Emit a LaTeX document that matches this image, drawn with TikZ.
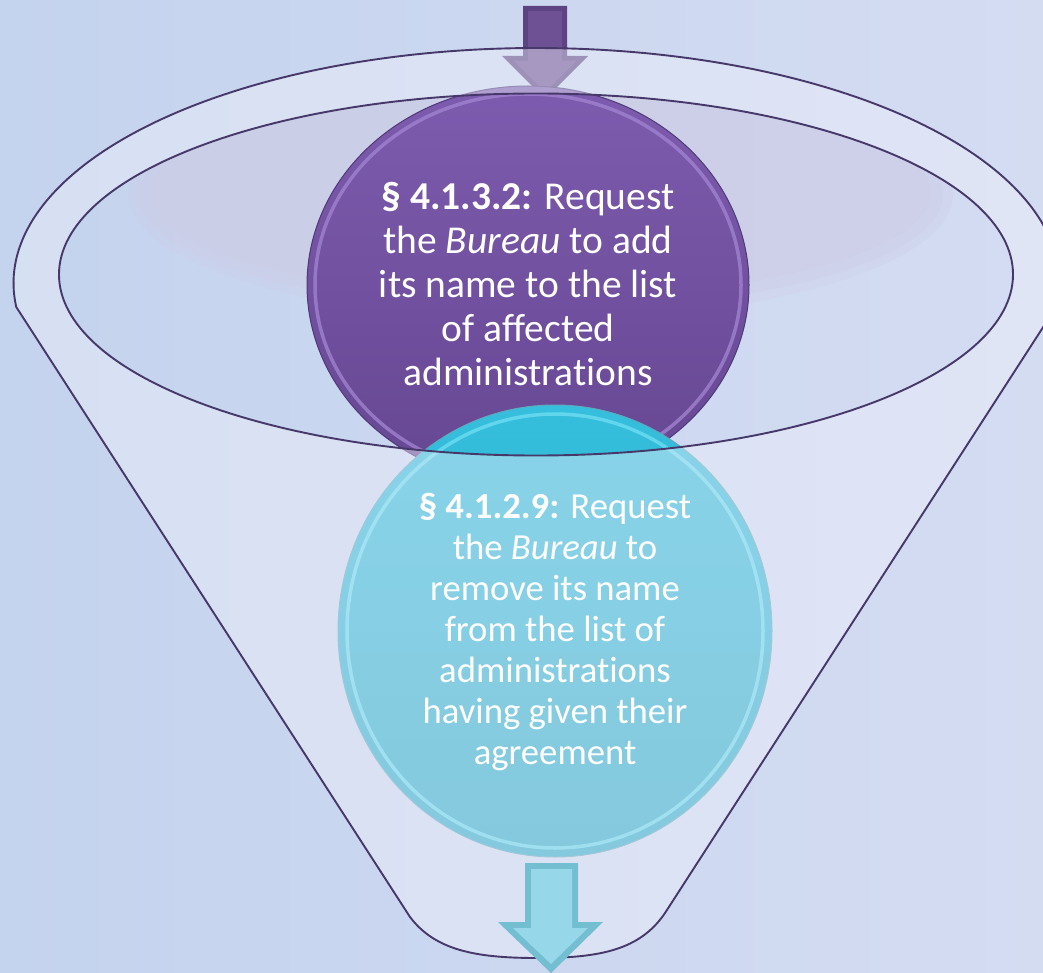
\documentclass[tikz,border=0pt]{standalone}
\usepackage{fontspec}
\setmainfont{Carlito}[Ligatures={NoCommon}]
\usetikzlibrary{shapes.geometric}
\definecolor{bgA}{HTML}{C4D3EE}
\definecolor{bgB}{HTML}{D4DCF2}
\definecolor{rimline}{HTML}{47386A}
\definecolor{funbody}{HTML}{EEF0FA}
\definecolor{shadowc}{HTML}{CDCDE6}
\definecolor{purA}{HTML}{7D5BAE}
\definecolor{purB}{HTML}{664792}
\definecolor{purRing}{HTML}{A385D3}
\definecolor{purEdge}{HTML}{4F3A78}
\definecolor{cyaA}{HTML}{35BEDD}
\definecolor{cyaB}{HTML}{2EA9C6}
\definecolor{cyaRing}{HTML}{6EDDF2}
\definecolor{cyaEdge}{HTML}{5FA9BE}
\definecolor{arrP}{HTML}{5E4383}
\definecolor{arrPin}{HTML}{6E5195}
\definecolor{arrC}{HTML}{74BED2}
\definecolor{arrCin}{HTML}{96D7E9}
\newcommand\funnelpath{plot[domain=0:1, samples=150] ({536.5+523*cos(185.86-191.72*\x)}, {283-235*sin(185.86-191.72*\x)}) -- (665,913) .. controls (640,950) and (600,958) .. (537,958) .. controls (475,958) and (435,950) .. (410,917) -- cycle}
\newcommand\rimpath{(536,274.5) ellipse [x radius=477pt, y radius=181pt]}
\tikzset{
  ballnode/.style={ellipse, inner sep=0pt, line width=1pt},
  txt/.style={text=white, align=center, inner sep=0pt},
  outline/.style={rimline, line width=1.9pt, line join=round}
}
\begin{document}
\begin{tikzpicture}[x=1pt, y=-1pt]
\useasboundingbox (0,0) rectangle (1043,973);
\clip (0,0) rectangle (1043,973);
% background
\shade[left color=bgA, right color=bgB] (0,0) rectangle (1043,973);
% soft shadow inside the rim
\begin{scope}
  \clip \rimpath;
  \fill[shadowc, opacity=.3] (541,195) ellipse [x radius=412pt, y radius=125pt];
  \fill[shadowc, opacity=.4] (541,195) ellipse [x radius=402pt, y radius=115pt];
  \fill[shadowc, opacity=.4] (541,193) ellipse [x radius=390pt, y radius=105pt];
\end{scope}
% top arrow
\fill[arrP] (523,6) -- (567,6) -- (567,56) -- (588,56) -- (545,99) -- (502,56) -- (523,56) -- cycle;
\fill[arrPin] (528,11) -- (562,11) -- (562,61) -- (576,61) -- (545,92) -- (514,61) -- (528,61) -- cycle;
% circles
\node[ballnode, minimum width=442pt, minimum height=398pt, top color=purA, bottom color=purB, draw=purEdge] (pc) at (528,285) {};
\draw[purRing, line width=3.5pt, opacity=.75] (pc.center) ellipse [x radius=213pt, y radius=191pt];
\node[ballnode, minimum width=434pt, minimum height=452pt, top color=cyaA, bottom color=cyaB, draw=cyaEdge] (cc) at (555,631) {};
\draw[cyaRing, line width=3.5pt, opacity=.8] (cc.center) ellipse [x radius=208pt, y radius=217pt];
% funnel body (translucent front)
\fill[funbody, fill opacity=0.45, even odd rule] \funnelpath \rimpath;
% texts
\node[txt, font=\fontsize{39.5}{44}\selectfont] (pt) at (528,284) {\textbf{§ 4.1.3.2:} Request\\ the \textit{Bureau} to add\\ its name to the list\\ of affected\\ administrations};
\node[txt, font=\fontsize{36.7}{41}\selectfont] (ct) at (555,632) {\textbf{§ 4.1.2.9:} Request\\ the \textit{Bureau} to\\ remove its name\\ from the list of\\ administrations\\ having given their\\ agreement};
% funnel outlines
\draw[outline] \funnelpath;
\draw[outline] \rimpath;
% bottom arrow
\fill[arrC] (525,863) -- (578,863) -- (578,922) -- (603,922) -- (551,973) -- (498,922) -- (525,922) -- cycle;
\fill[arrCin] (531,869) -- (572,869) -- (572,928) -- (588,928) -- (551,964) -- (513,928) -- (531,928) -- cycle;
\end{tikzpicture}
\end{document}
